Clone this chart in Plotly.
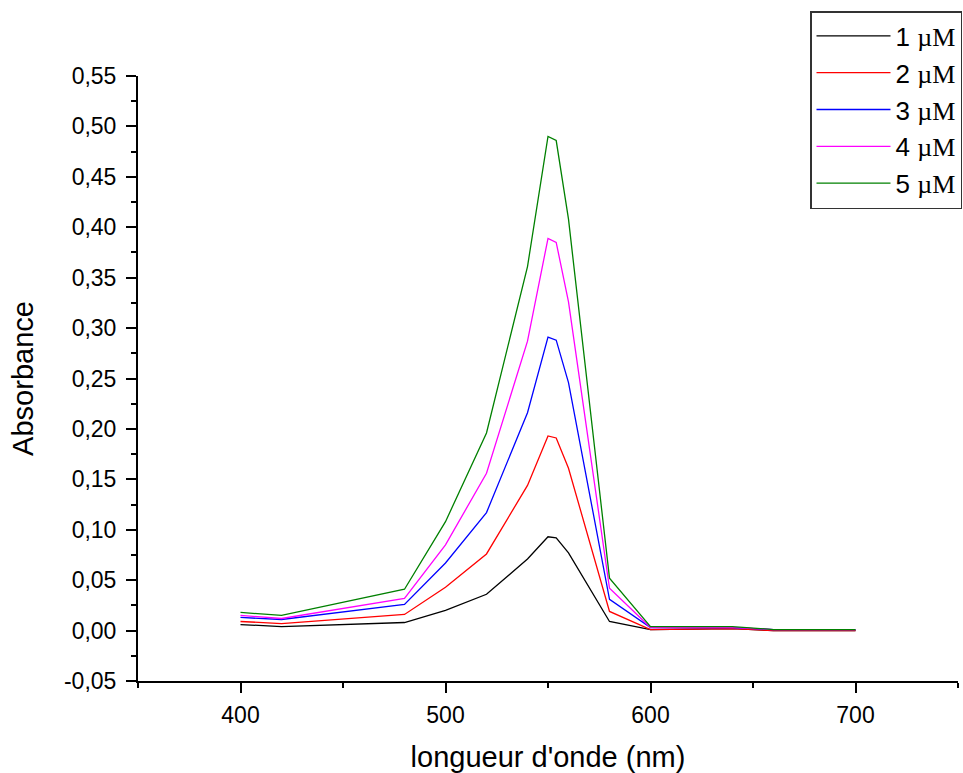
import plotly.graph_objects as go

wavelength = [400, 420, 480, 500, 520, 540, 550, 554, 560, 580, 600, 640, 660, 700]

abs_1uM = [0.006, 0.004, 0.008, 0.020, 0.036, 0.071, 0.093, 0.092, 0.077, 0.009, 0.001, 0.002, 0.000, 0.000]
abs_2uM = [0.009, 0.007, 0.016, 0.043, 0.076, 0.144, 0.193, 0.191, 0.161, 0.019, 0.001, 0.002, 0.000, 0.000]
abs_3uM = [0.013, 0.011, 0.026, 0.067, 0.117, 0.216, 0.291, 0.288, 0.246, 0.031, 0.003, 0.003, 0.001, 0.001]
abs_4uM = [0.015, 0.012, 0.032, 0.085, 0.156, 0.287, 0.389, 0.385, 0.326, 0.042, 0.003, 0.003, 0.001, 0.001]
abs_5uM = [0.018, 0.015, 0.041, 0.108, 0.196, 0.361, 0.490, 0.486, 0.408, 0.052, 0.004, 0.004, 0.001, 0.001]

series_names = ["1", "2", "3", "4", "5"]
series_values = [abs_1uM, abs_2uM, abs_3uM, abs_4uM, abs_5uM]
colors = ["#000000", "#FF0000", "#0000FF", "#FF00FF", "#008000"]

y_tickvals = [-0.05, 0.00, 0.05, 0.10, 0.15, 0.20, 0.25, 0.30, 0.35, 0.40, 0.45, 0.50, 0.55]
y_ticktext = ["-0,05", "0,00", "0,05", "0,10", "0,15", "0,20", "0,25", "0,30", "0,35", "0,40", "0,45", "0,50", "0,55"]
x_tickvals = [400, 500, 600, 700]
x_ticktext = ["400", "500", "600", "700"]

fig = go.Figure()
for name, vals, col in zip(series_names, series_values, colors):
    fig.add_trace(go.Scatter(
        x=wavelength, y=vals, mode="lines",
        line=dict(color=col, width=1.3),
        name=name + " <span style='font-family:Liberation Serif, Times New Roman, serif'>µM</span>",
        legendgroup=name,
    ))

W, H = 963, 773
L, R, T, B = 138, 5, 76, 92

fig.update_layout(
    width=W, height=H,
    margin=dict(l=L, r=R, t=T, b=B, autoexpand=False),
    paper_bgcolor="white", plot_bgcolor="white",
    font=dict(family="Arial, Liberation Sans, sans-serif", color="black"),
    showlegend=True,
    legend=dict(
        x=(810 - L) / (W - L - R), y=(H - B - 11) / (H - T - B),
        xanchor="left", yanchor="top",
        bordercolor="#333333", borderwidth=1.5, bgcolor="white",
        font=dict(size=26, family="Arial, Liberation Sans, sans-serif", color="black"),
        itemwidth=74, tracegroupgap=0,
    ),
    xaxis=dict(
        range=[350, 750], showgrid=False, zeroline=False,
        showline=True, linecolor="black", linewidth=2,
        ticks="outside", ticklen=10, tickwidth=2, tickcolor="black",
        tickvals=x_tickvals, ticktext=x_ticktext,
        tickfont=dict(size=23), ticklabelstandoff=2,
        minor=dict(tickvals=[350, 450, 550, 650, 750], ticks="outside", ticklen=5, tickwidth=2, tickcolor="black"),
        title=dict(text="longueur d'onde (nm)", font=dict(size=29), standoff=22),
    ),
    yaxis=dict(
        range=[-0.05, 0.55], showgrid=False, zeroline=False,
        showline=True, linecolor="black", linewidth=2,
        ticks="outside", ticklen=10, tickwidth=2, tickcolor="black",
        tickvals=y_tickvals, ticktext=y_ticktext,
        tickfont=dict(size=23), ticklabelstandoff=5,
        minor=dict(dtick=0.025, tick0=-0.05, ticks="outside", ticklen=5, tickwidth=2, tickcolor="black"),
        title=dict(text="Absorbance", font=dict(size=29), standoff=22),
    ),
)

fig.write_html("out.html")
